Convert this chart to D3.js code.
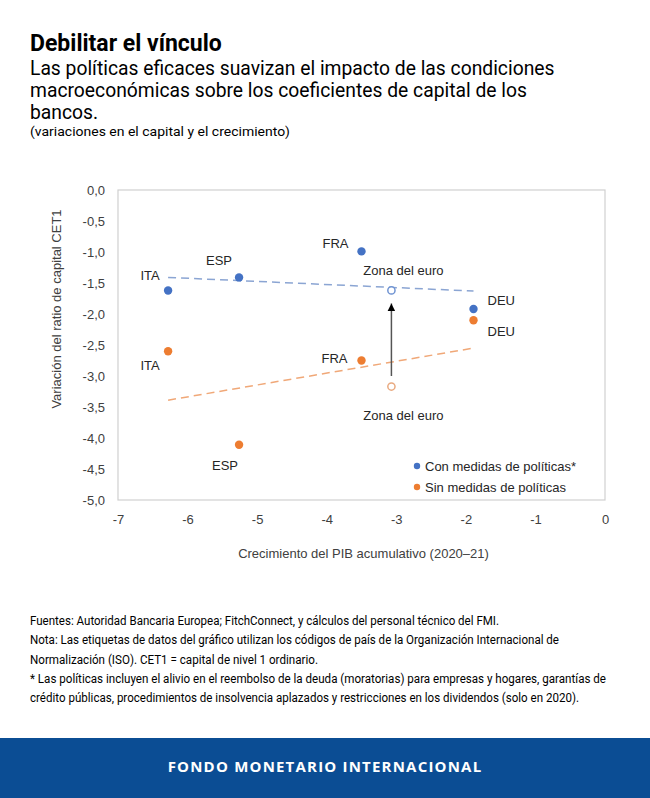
<!DOCTYPE html>
<html>
<head>
<meta charset="utf-8">
<script src="https://cdn.jsdelivr.net/npm/d3@7"></script>
<style>
    body { margin: 0; background: #fff; }
    svg { display: block; }
</style>
</head>
<body>
<div id="chart"></div>
<script>
/**
 * Data.
 */
const countries = ['ITA', 'ESP', 'FRA', 'DEU'];
const gdpGrowth = [-6.28, -5.26, -3.50, -1.89];     // cumulative GDP growth 2020-21
const cet1WithPolicy = [-1.62, -1.41, -0.99, -1.92]; // Con medidas de políticas
const cet1NoPolicy = [-2.60, -4.11, -2.75, -2.10];   // Sin medidas de políticas

const euroLabel = 'Zona del euro';
const euroGrowth = [-3.07];
const euroWithPolicy = [-1.62];
const euroNoPolicy = [-3.17];

// Dashed trend lines (end points)
const trendX = [-6.28, -1.89];
const trendWithPolicy = [-1.41, -1.63];
const trendNoPolicy = [-3.39, -2.55];

// Arrow from "sin" towards "con"
const arrowY = [-3.0, -1.83];

const seriesNames = ['Con medidas de políticas*', 'Sin medidas de políticas'];
const xTicks = [-7, -6, -5, -4, -3, -2, -1, 0];
const yTicks = [0, -0.5, -1, -1.5, -2, -2.5, -3, -3.5, -4, -4.5, -5];

const titleText = 'Debilitar el vínculo';
const subtitleLines = [
    'Las políticas eficaces suavizan el impacto de las condiciones',
    'macroeconómicas sobre los coeficientes de capital de los',
    'bancos.'
];
const unitText = '(variaciones en el capital y el crecimiento)';
const xTitle = 'Crecimiento del PIB acumulativo (2020–21)';
const yTitle = 'Variación del ratio de capital CET1';
const noteLines = [
    'Fuentes: Autoridad Bancaria Europea; FitchConnect, y cálculos del personal técnico del FMI.',
    'Nota: Las etiquetas de datos del gráfico utilizan los códigos de país de la Organización Internacional de',
    'Normalización (ISO). CET1 = capital de nivel 1 ordinario.',
    '* Las políticas incluyen el alivio en el reembolso de la deuda (moratorias) para empresas y hogares, garantías de',
    'crédito públicas, procedimientos de insolvencia aplazados y restricciones en los dividendos (solo en 2020).'
];
const bannerText = 'FONDO MONETARIO INTERNACIONAL';

/**
 * Visual configs.
 */
const visWidth = 650, visHeight = 798;
const margin = { top: 190, right: 45, bottom: 298, left: 118 };
const width = visWidth - margin.left - margin.right,
    height = visHeight - margin.top - margin.bottom;

const blue = '#4472c4', orange = '#ed7d31';
const chartFont = '"Liberation Sans", Arial, sans-serif';
const pageFont = 'Roboto, "Noto Sans", sans-serif';

// Label placement relative to each point: [dx, dy, anchor]
const labelWith = {
    ITA: [-18, -10, 'middle'], ESP: [-20, -12, 'middle'],
    FRA: [-13, -3, 'end'], DEU: [14, -4, 'start']
};
const labelWithout = {
    ITA: [-18, 19, 'middle'], ESP: [-14, 25, 'middle'],
    FRA: [-14, 2, 'end'], DEU: [14, 16, 'start']
};

const locale = d3.formatLocale({ decimal: ',', thousands: '.', grouping: [3], currency: ['', ''], minus: '-' });

const svg = d3.select('#chart').append('svg')
    .attr('width', visWidth)
    .attr('height', visHeight);

/**
 * Header.
 */
svg.append('text')
    .attr('x', 30).attr('y', 51)
    .attr('font-family', pageFont).attr('font-weight', 700).attr('font-size', 23)
    .attr('fill', '#000')
    .text(titleText);

svg.append('g').selectAll('text').data(subtitleLines).join('text')
    .attr('x', 30).attr('y', (d, i) => 75 + i * 22)
    .attr('font-family', pageFont).attr('font-size', 19.3)
    .attr('fill', '#000')
    .text(d => d);

svg.append('text')
    .attr('x', 30).attr('y', 136)
    .attr('font-family', pageFont).attr('font-size', 13.5)
    .attr('textLength', 260).attr('lengthAdjust', 'spacingAndGlyphs')
    .attr('fill', '#000')
    .text(unitText);

/**
 * Chart.
 */
const x = d3.scaleLinear().domain([-7, 0]).range([0, width]);
const y = d3.scaleLinear().domain([0, -5]).range([0, height]);

const g = svg.append('g')
    .attr('transform', 'translate(' + margin.left + ',' + margin.top + ')');

// Axes: labels only, the frame is drawn separately
const xAxis = g.append('g')
    .attr('transform', 'translate(0,' + height + ')')
    .call(d3.axisBottom(x).tickValues(xTicks).tickSize(0).tickPadding(15).tickFormat(locale.format('d')));
const yAxis = g.append('g')
    .call(d3.axisLeft(y).tickValues(yTicks).tickSize(0).tickPadding(13).tickFormat(locale.format('.1f')));

[xAxis, yAxis].forEach(a => {
    a.select('.domain').remove();
    a.selectAll('text')
        .attr('font-family', chartFont).attr('font-size', 13)
        .attr('fill', '#404040');
});

g.append('rect')
    .attr('width', width).attr('height', height)
    .attr('fill', 'none').attr('stroke', '#d0d0d0').attr('stroke-width', 1.2);

g.append('text')
    .attr('x', width / 2 + 2).attr('y', height + 58)
    .attr('text-anchor', 'middle')
    .attr('font-family', chartFont).attr('font-size', 13).attr('fill', '#404040')
    .text(xTitle);

g.append('text')
    .attr('transform', 'translate(' + (-57) + ',' + (height / 2 - 36) + ') rotate(-90)')
    .attr('text-anchor', 'middle')
    .attr('font-family', chartFont).attr('font-size', 13).attr('fill', '#404040')
    .text(yTitle);

// Trend lines
const line = d3.line().x(d => x(d[0])).y(d => y(d[1]));
[[trendWithPolicy, '#8ba5d3'], [trendNoPolicy, '#f0a878']].forEach(([vals, color]) => {
    g.append('path')
        .datum(trendX.map((v, i) => [v, vals[i]]))
        .attr('d', line)
        .attr('fill', 'none').attr('stroke', color)
        .attr('stroke-width', 1.5).attr('stroke-dasharray', '8,5');
});

// Arrow
svg.append('defs').append('marker')
    .attr('id', 'arrowhead')
    .attr('viewBox', '0 0 10 10').attr('refX', 10).attr('refY', 5)
    .attr('markerWidth', 8).attr('markerHeight', 8).attr('markerUnits', 'userSpaceOnUse')
    .attr('orient', 'auto')
    .append('path').attr('d', 'M0,0 L10,5 L0,10 Z').attr('fill', '#000');

g.append('line')
    .attr('x1', x(euroGrowth[0])).attr('x2', x(euroGrowth[0]))
    .attr('y1', y(arrowY[0])).attr('y2', y(arrowY[1]))
    .attr('stroke', '#555').attr('stroke-width', 1.5)
    .attr('marker-end', 'url(#arrowhead)');

// Points and labels
const points = countries.map((c, i) => ({ id: c, x: gdpGrowth[i], con: cet1WithPolicy[i], sin: cet1NoPolicy[i] }));

function drawSeries(key, color, placement) {
    g.append('g').selectAll('circle').data(points).join('circle')
        .attr('cx', d => x(d.x)).attr('cy', d => y(d[key]))
        .attr('r', 4.2).attr('fill', color);

    g.append('g').selectAll('text').data(points).join('text')
        .attr('x', d => x(d.x) + placement[d.id][0])
        .attr('y', d => y(d[key]) + placement[d.id][1])
        .attr('text-anchor', d => placement[d.id][2])
        .attr('font-family', chartFont).attr('font-size', 13).attr('fill', '#262626')
        .text(d => d.id);
}
drawSeries('con', blue, labelWith);
drawSeries('sin', orange, labelWithout);

// Euro area: hollow markers
[[euroWithPolicy[0], '#6f93d2', -15], [euroNoPolicy[0], '#e9aa80', 33]].forEach(([v, color, dy]) => {
    g.append('circle')
        .attr('cx', x(euroGrowth[0])).attr('cy', y(v))
        .attr('r', 3.6).attr('fill', '#fff')
        .attr('stroke', color).attr('stroke-width', 1.5);
    g.append('text')
        .attr('x', x(euroGrowth[0]) + 12).attr('y', y(v) + dy)
        .attr('text-anchor', 'middle')
        .attr('font-family', chartFont).attr('font-size', 13).attr('fill', '#262626')
        .text(euroLabel);
});

// Legend
const legend = g.append('g').attr('transform', 'translate(' + (417 - margin.left) + ',' + (466 - margin.top) + ')');
const legendItems = legend.selectAll('g').data(seriesNames).join('g')
    .attr('transform', (d, i) => 'translate(0,' + i * 21 + ')');
legendItems.append('circle').attr('r', 3.2).attr('fill', (d, i) => i ? orange : blue);
legendItems.append('text')
    .attr('x', 8).attr('y', 5)
    .attr('font-family', chartFont).attr('font-size', 13).attr('fill', '#262626')
    .text(d => d);

/**
 * Notes and banner.
 */
const noteWidths = [469, 529, 288, 576, 549];
svg.append('g').selectAll('text').data(noteLines).join('text')
    .attr('x', 30).attr('y', (d, i) => 625 + i * 19.3)
    .attr('font-family', pageFont).attr('font-size', 12)
    .attr('textLength', (d, i) => noteWidths[i]).attr('lengthAdjust', 'spacingAndGlyphs')
    .attr('fill', '#000')
    .text(d => d);

svg.append('rect')
    .attr('x', 0).attr('y', 738).attr('width', visWidth).attr('height', 60)
    .attr('fill', '#0b4d94');

svg.append('text')
    .attr('x', visWidth / 2).attr('y', 772)
    .attr('text-anchor', 'middle')
    .attr('font-family', '"Open Sans", sans-serif').attr('font-weight', 700).attr('font-size', 15)
    .attr('letter-spacing', 1.2)
    .attr('fill', '#fff')
    .text(bannerText);
</script>
</body>
</html>
